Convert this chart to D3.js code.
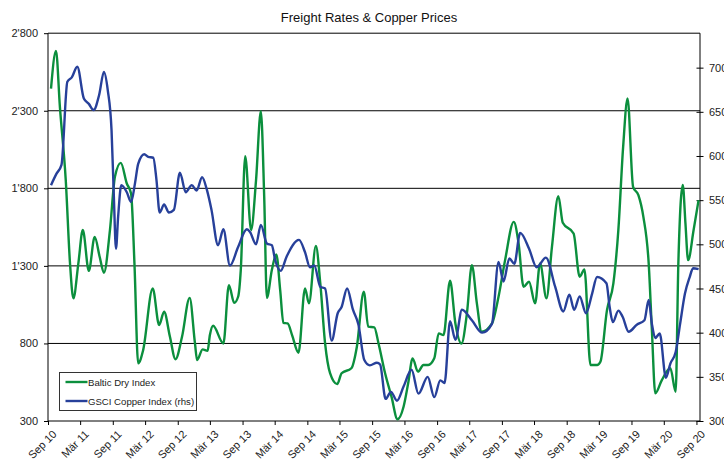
<!DOCTYPE html>
<html>
<head>
<meta charset="utf-8">
<script src="https://cdn.jsdelivr.net/npm/d3@7"></script>
<style>
  body { margin: 0; background: #fff; }
  svg { font-family: "Liberation Sans", Arial, sans-serif; }
</style>
</head>
<body>
<div id="plot"></div>
<script>
// Baltic Dry Index (left axis)
var bdiData = [
  ["2010-09-18", 2443], ["2010-10-16", 2686], ["2010-11-07", 2325], ["2010-12-10", 1853],
  ["2011-01-03", 1316], ["2011-01-22", 1091], ["2011-02-19", 1316], ["2011-03-16", 1531],
  ["2011-04-19", 1268], ["2011-05-22", 1487], ["2011-06-19", 1359], ["2011-07-13", 1256],
  ["2011-08-16", 1531], ["2011-09-13", 1874], ["2011-10-16", 1964], ["2011-11-19", 1831],
  ["2011-12-13", 1767], ["2012-01-01", 1316], ["2012-01-22", 672], ["2012-02-19", 757],
  ["2012-04-13", 1155], ["2012-05-19", 919], ["2012-06-16", 1004], ["2012-07-19", 843],
  ["2012-08-19", 698], ["2012-09-25", 843], ["2012-11-07", 1094], ["2012-12-07", 800],
  ["2012-12-19", 693], ["2013-01-19", 762], ["2013-02-16", 753], ["2013-03-01", 854],
  ["2013-03-19", 914], ["2013-05-16", 800], ["2013-06-16", 1176], ["2013-07-16", 1062],
  ["2013-08-07", 1101], ["2013-08-22", 1273], ["2013-09-16", 2007], ["2013-10-19", 1531],
  ["2013-11-16", 1853], ["2013-12-13", 2297], ["2014-01-01", 1745], ["2014-01-16", 1094],
  ["2014-02-13", 1273], ["2014-03-10", 1374], ["2014-04-01", 1144], ["2014-04-19", 933],
  ["2014-05-13", 929], ["2014-06-07", 854], ["2014-07-13", 740], ["2014-08-19", 1155],
  ["2014-09-10", 1058], ["2014-10-19", 1428], ["2014-11-13", 1187], ["2014-12-10", 800],
  ["2015-01-07", 608], ["2015-02-16", 538], ["2015-03-13", 608], ["2015-05-07", 640],
  ["2015-06-07", 779], ["2015-07-16", 1133], ["2015-08-10", 908], ["2015-09-13", 904],
  ["2015-10-07", 800], ["2015-11-13", 608], ["2015-12-19", 457], ["2016-01-22", 311],
  ["2016-02-25", 392], ["2016-03-22", 543], ["2016-04-16", 704], ["2016-05-16", 618],
  ["2016-06-16", 661], ["2016-07-13", 661], ["2016-08-16", 704], ["2016-09-10", 865],
  ["2016-10-07", 854], ["2016-11-13", 1204], ["2016-12-13", 929], ["2017-01-16", 800],
  ["2017-02-16", 994], ["2017-03-16", 1305], ["2017-04-13", 1058], ["2017-05-10", 875],
  ["2017-07-07", 929], ["2017-08-13", 1101], ["2017-09-19", 1337], ["2017-11-07", 1584],
  ["2017-12-04", 1445], ["2018-01-01", 1165], ["2018-02-01", 1198], ["2018-03-07", 1058],
  ["2018-04-04", 1316], ["2018-05-10", 1091], ["2018-06-10", 1423], ["2018-07-16", 1750],
  ["2018-08-10", 1578], ["2018-10-10", 1509], ["2018-11-13", 1230], ["2018-12-10", 1277],
  ["2019-01-13", 661], ["2019-02-19", 661], ["2019-03-10", 682], ["2019-04-16", 1015],
  ["2019-05-22", 1187], ["2019-06-19", 1531], ["2019-07-16", 2067], ["2019-08-10", 2379],
  ["2019-09-10", 1810], ["2019-10-10", 1756], ["2019-11-07", 1616], ["2019-12-07", 1316],
  ["2019-12-25", 886], ["2020-01-13", 478], ["2020-02-19", 564], ["2020-04-07", 640],
  ["2020-05-07", 489], ["2020-05-22", 1316], ["2020-06-16", 1821], ["2020-07-01", 1574],
  ["2020-07-16", 1337], ["2020-08-16", 1531], ["2020-09-13", 1724]
];

// GSCI Copper Index (right axis)
var copperData = [
  ["2010-09-18", 567], ["2010-10-19", 580], ["2010-11-16", 590], ["2010-12-19", 684],
  ["2011-01-13", 689], ["2011-02-13", 701], ["2011-03-22", 665], ["2011-04-19", 659],
  ["2011-05-16", 652], ["2011-06-16", 669], ["2011-07-13", 695], ["2011-08-04", 674],
  ["2011-08-25", 629], ["2011-09-07", 554], ["2011-09-19", 495], ["2011-10-01", 531],
  ["2011-10-19", 567], ["2011-11-19", 559], ["2011-12-13", 548], ["2012-01-04", 569],
  ["2012-01-22", 591], ["2012-02-25", 602], ["2012-03-19", 599], ["2012-04-16", 598],
  ["2012-05-04", 573], ["2012-05-22", 536], ["2012-06-16", 545], ["2012-07-13", 536],
  ["2012-08-10", 539], ["2012-09-13", 581], ["2012-10-16", 559], ["2012-11-19", 567],
  ["2012-12-16", 561], ["2013-01-16", 576], ["2013-02-13", 561], ["2013-03-10", 539],
  ["2013-04-16", 499], ["2013-05-16", 517], ["2013-06-22", 476], ["2013-08-07", 497],
  ["2013-09-25", 517], ["2013-10-13", 514], ["2013-11-16", 500], ["2013-12-13", 522],
  ["2014-01-16", 501], ["2014-02-13", 499], ["2014-03-04", 482], ["2014-04-04", 470],
  ["2014-05-07", 486], ["2014-07-16", 505], ["2014-08-19", 491], ["2014-09-16", 474],
  ["2014-10-10", 476], ["2014-11-13", 452], ["2014-12-10", 450], ["2015-01-16", 391],
  ["2015-02-19", 422], ["2015-03-13", 429], ["2015-04-13", 450], ["2015-05-16", 426],
  ["2015-06-16", 409], ["2015-07-19", 369], ["2015-08-19", 363], ["2015-09-28", 366],
  ["2015-10-16", 364], ["2015-11-16", 325], ["2015-12-16", 333], ["2016-01-19", 323],
  ["2016-02-25", 339], ["2016-04-10", 358], ["2016-05-19", 331], ["2016-07-10", 350],
  ["2016-08-16", 327], ["2016-09-19", 346], ["2016-10-13", 343], ["2016-11-13", 413],
  ["2016-12-13", 392], ["2017-01-19", 426], ["2017-03-16", 414], ["2017-05-13", 400],
  ["2017-07-07", 410], ["2017-08-13", 480], ["2017-09-10", 458], ["2017-10-13", 484],
  ["2017-11-10", 478], ["2017-12-13", 513], ["2018-02-01", 495], ["2018-03-16", 474],
  ["2018-05-07", 485], ["2018-06-28", 452], ["2018-08-13", 424], ["2018-09-16", 443],
  ["2018-10-13", 426], ["2018-11-13", 441], ["2018-12-19", 422], ["2019-01-22", 444],
  ["2019-02-19", 463], ["2019-04-13", 456], ["2019-05-01", 429], ["2019-05-19", 412],
  ["2019-06-19", 425], ["2019-07-13", 418], ["2019-08-16", 401], ["2019-10-01", 409],
  ["2019-11-13", 414], ["2019-12-07", 437], ["2019-12-25", 410], ["2020-01-13", 394],
  ["2020-02-07", 399], ["2020-03-13", 349], ["2020-04-07", 365], ["2020-05-07", 378],
  ["2020-06-01", 410], ["2020-06-28", 444], ["2020-07-25", 463], ["2020-08-13", 473],
  ["2020-09-13", 472]
];

var leftTicks = [300, 800, 1300, 1800, 2300, 2800];
var rightTicks = [300, 350, 400, 450, 500, 550, 600, 650, 700];
var monthNames = ["Jan", "Feb", "Mär", "Apr", "Mai", "Jun", "Jul", "Aug", "Sep", "Okt", "Nov", "Dez"];
var seriesNames = ["Baltic Dry Index", "GSCI Copper Index (rhs)"];
var seriesColors = ["#0b8f3d", "#27409a"];

var width = 724, height = 461;
var plotLeft = 48, plotRight = 700, plotTop = 33.2, plotBottom = 421;

var parse = d3.timeParse("%Y-%m-%d");

var svg = d3.select("#plot").append("svg")
  .attr("width", width)
  .attr("height", height);

var x = d3.scaleTime()
  .domain([parse("2010-09-01"), parse("2020-09-21")])
  .range([plotLeft, plotRight]);

var yLeft = d3.scaleLinear().domain([300, 2800]).range([plotBottom, plotTop]);
var yRight = d3.scaleLinear().domain([300, 739]).range([plotBottom, plotTop]);

// gridlines
svg.append("g")
  .selectAll("line")
  .data(leftTicks.slice(1))
  .enter().append("line")
  .attr("x1", plotLeft).attr("x2", plotRight)
  .attr("y1", function(d) { return yLeft(d); })
  .attr("y2", function(d) { return yLeft(d); })
  .attr("stroke", "#000")
  .attr("stroke-width", 1);

var fmt = function(d) { return d3.format(",")(d).replace(",", "'"); };

// left axis
var gl = svg.append("g")
  .attr("transform", "translate(" + plotLeft + ",0)")
  .call(d3.axisLeft(yLeft).tickValues(leftTicks).tickSize(4).tickPadding(6).tickFormat(fmt));

// right axis
var gr = svg.append("g")
  .attr("transform", "translate(" + plotRight + ",0)")
  .call(d3.axisRight(yRight).tickValues(rightTicks).tickSize(4).tickPadding(5));
gr.selectAll(".tick line").attr("x1", -3.5).attr("x2", 3.5);

// bottom axis
var xTicks = [];
for (var yr = 2010; yr <= 2020; yr++) {
  if (yr > 2010) xTicks.push(new Date(yr, 2, 1));
  xTicks.push(new Date(yr, 8, 1));
}
var gb = svg.append("g")
  .attr("transform", "translate(0," + plotBottom + ")")
  .call(d3.axisBottom(x).tickValues(xTicks).tickSize(4)
    .tickFormat(function(d) { return monthNames[d.getMonth()] + " " + String(d.getFullYear()).slice(2); }));
gb.selectAll("text")
  .attr("text-anchor", "end")
  .attr("dx", "0")
  .attr("dy", "0")
  .attr("transform", "translate(4,9) rotate(-45)");

[gl, gr, gb].forEach(function(g) {
  g.select(".domain").attr("stroke", "#000");
  g.selectAll(".tick line").attr("stroke", "#000");
  g.selectAll("text").attr("font-size", 11).attr("fill", "#222")
    .attr("font-family", "'Liberation Sans', Arial, sans-serif");
});
gr.select(".domain").attr("d", "M0," + plotBottom + "V" + plotTop);
gl.select(".domain").attr("d", "M0," + plotBottom + "V" + plotTop);
gb.select(".domain").attr("d", "M" + plotLeft + ",0H" + plotRight);

// lines
var lineLeft = d3.line()
  .x(function(d) { return x(parse(d[0])); })
  .y(function(d) { return yLeft(d[1]); })
  .curve(d3.curveMonotoneX);
var lineRight = d3.line()
  .x(function(d) { return x(parse(d[0])); })
  .y(function(d) { return yRight(d[1]); })
  .curve(d3.curveMonotoneX);

svg.append("path")
  .attr("d", lineLeft(bdiData))
  .attr("fill", "none")
  .attr("stroke", seriesColors[0])
  .attr("stroke-width", 2.4)
  .attr("stroke-linejoin", "round");

svg.append("path")
  .attr("d", lineRight(copperData))
  .attr("fill", "none")
  .attr("stroke", seriesColors[1])
  .attr("stroke-width", 2.4)
  .attr("stroke-linejoin", "round");

// title
svg.append("text")
  .attr("x", 369)
  .attr("y", 22)
  .attr("text-anchor", "middle")
  .attr("font-size", 13)
  .attr("fill", "#111")
  .text("Freight Rates & Copper Prices");

// legend
var legend = svg.append("g").attr("transform", "translate(59.5,372.5)");
legend.append("rect")
  .attr("width", 137).attr("height", 38)
  .attr("fill", "#fff")
  .attr("stroke", "#333")
  .attr("stroke-width", 1);
seriesNames.forEach(function(name, i) {
  var ly = 9.5 + i * 19;
  legend.append("line")
    .attr("x1", 6).attr("x2", 28)
    .attr("y1", ly).attr("y2", ly)
    .attr("stroke", seriesColors[i])
    .attr("stroke-width", 2.4);
  legend.append("text")
    .attr("x", 28.5).attr("y", ly + 3.5)
    .attr("font-size", 9.6)
    .attr("fill", "#222")
    .text(name);
});
</script>
</body>
</html>
